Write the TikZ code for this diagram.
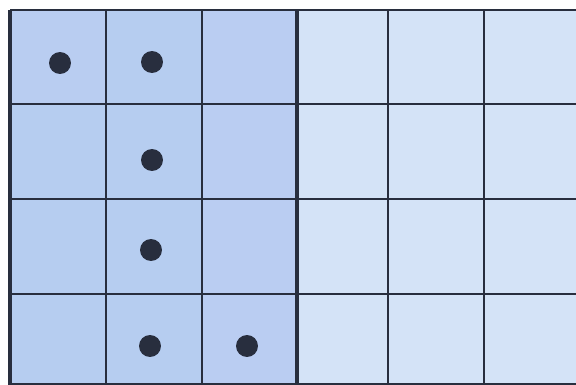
\documentclass[tikz,border=0pt]{standalone}
\usepackage{tikz}
\usetikzlibrary{calc,positioning}

\definecolor{darkcell}{RGB}{182,205,240}
\definecolor{lightcell}{RGB}{212,227,247}
\definecolor{gridline}{RGB}{40,46,62}

\begin{document}
\begin{tikzpicture}[x=0.02cm, y=-0.02cm]
	\useasboundingbox (0, 0) rectangle (576, 385);
	\fill[white] (0, 0) rectangle (576, 385);

	% shaded blocks
	\fill[darkcell] (10, 10) rectangle (297, 385);
	\fill[lightcell] (297, 10) rectangle (576, 385);
	\fill[darkcell!85!blue!60!white, opacity=0.35] (202, 10) rectangle (297, 385);
	\fill[darkcell!85!blue!60!white, opacity=0.25] (10, 10) rectangle (106, 104);

	% grid lines
	\draw[gridline, line width=1.6pt] (10, 10) -- (576, 10);
	\draw[gridline, line width=1.2pt] (10, 104) -- (576, 104);
	\draw[gridline, line width=1.2pt] (10, 199) -- (576, 199);
	\draw[gridline, line width=1.2pt] (10, 294) -- (576, 294);
	\draw[gridline, line width=1.2pt] (10, 384) -- (576, 384);

	\draw[gridline, line width=1.8pt] (10, 10) -- (10, 385);
	\draw[gridline, line width=1.2pt] (106, 10) -- (106, 385);
	\draw[gridline, line width=1.2pt] (202, 10) -- (202, 385);
	\draw[gridline, line width=1.8pt] (297, 10) -- (297, 385);
	\draw[gridline, line width=1.2pt] (388, 10) -- (388, 385);
	\draw[gridline, line width=1.2pt] (484, 10) -- (484, 385);

	% counters
	\node[circle, fill=gridline, inner sep=0pt, minimum size=0.44cm] at (60, 63) (dp1) {};
	\node[circle, fill=gridline, inner sep=0pt, minimum size=0.44cm] at (152, 62) (dp2) {};
	\node[circle, fill=gridline, inner sep=0pt, minimum size=0.44cm] at (152, 160) (dp3) {};
	\node[circle, fill=gridline, inner sep=0pt, minimum size=0.44cm] at (151, 250) (dp4) {};
	\node[circle, fill=gridline, inner sep=0pt, minimum size=0.44cm] at (150, 346) (dp5) {};
	\node[circle, fill=gridline, inner sep=0pt, minimum size=0.44cm] at (247, 346) (dp6) {};
\end{tikzpicture}
\end{document}
